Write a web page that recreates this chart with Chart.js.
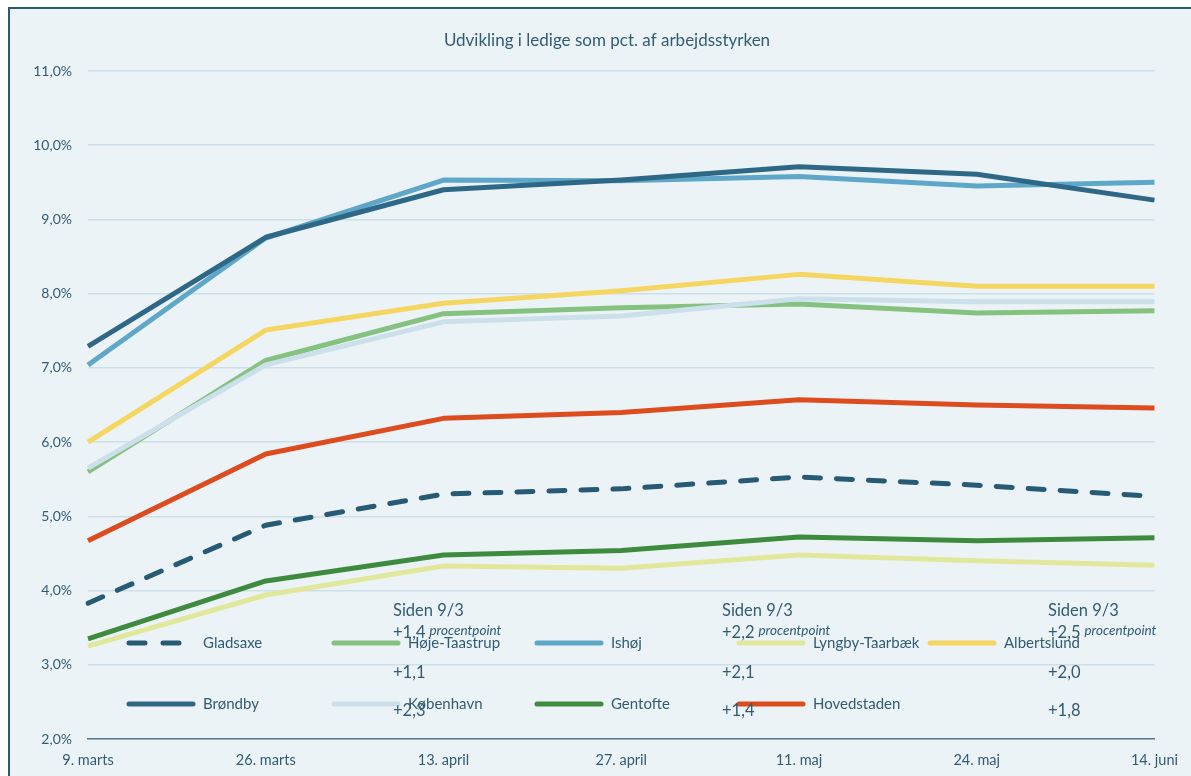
<!DOCTYPE html>
<html>
<head>
<meta charset="utf-8">
<script src="https://cdn.jsdelivr.net/npm/chart.js@4"></script>
<style>
  html, body { margin: 0; padding: 0; background: #fff; }
  #frame {
    position: absolute; left: 8px; top: 7px; width: 1181px; height: 767px;
    border-left: 2px solid #2b5b73; border-top: 2px solid #2b5b73;
    background: #ecf3f7;
  }
  canvas { display: block; }
</style>
</head>
<body>
<div id="frame"><canvas id="chart" width="1181" height="767"></canvas></div>
<script>
// categories
const dates = ['9. marts', '26. marts', '13. april', '27. april', '11. maj', '24. maj', '14. juni'];

// series (pct. af arbejdsstyrken)
const gladsaxe     = [3.83, 4.88, 5.30, 5.37, 5.53, 5.42, 5.27];
const hojeTaastrup = [5.60, 7.10, 7.73, 7.81, 7.86, 7.74, 7.77];
const ishoj        = [7.04, 8.75, 9.53, 9.52, 9.58, 9.45, 9.50];
const lyngby       = [3.25, 3.94, 4.33, 4.30, 4.48, 4.40, 4.34];
const albertslund  = [6.00, 7.51, 7.87, 8.04, 8.26, 8.10, 8.10];
const brondby      = [7.29, 8.76, 9.40, 9.53, 9.71, 9.61, 9.26];
const kobenhavn    = [5.65, 7.04, 7.62, 7.70, 7.93, 7.89, 7.89];
const gentofte     = [3.35, 4.13, 4.48, 4.54, 4.72, 4.67, 4.71];
const hovedstaden  = [4.67, 5.84, 6.32, 6.40, 6.57, 6.50, 6.46];

// change since 9/3, three columns of annotation
const changeLabels = [['+1,4', '+1,1', '+2,3'], ['+2,2', '+2,1', '+1,4'], ['+2,5', '+2,0', '+1,8']];

const yTicks = [2, 3, 4, 5, 6, 7, 8, 9, 10, 11];

const TEXT = '#315c72';
const FONT = 'Lato, "Open Sans", sans-serif';

const series = [
  { label: 'Gladsaxe', data: gladsaxe, color: '#275a74', dash: [16, 16] },
  { label: 'Høje-Taastrup', data: hojeTaastrup, color: '#86c27f' },
  { label: 'Ishøj', data: ishoj, color: '#5fa7c9' },
  { label: 'Lyngby-Taarbæk', data: lyngby, color: '#e2e89b' },
  { label: 'Albertslund', data: albertslund, color: '#f5d660' },
  { label: 'Brøndby', data: brondby, color: '#2f6886' },
  { label: 'København', data: kobenhavn, color: '#cce0eb' },
  { label: 'Gentofte', data: gentofte, color: '#3e8a3f' },
  { label: 'Hovedstaden', data: hovedstaden, color: '#dc4c1e' }
];

// legend slots (canvas px): two rows, five columns
const legendCols = [117, 322, 525, 727, 918];
const legendRows = [634, 695];

const overlay = {
  id: 'overlay',
  afterDatasetsDraw(chart) {
    const c = chart.ctx;
    c.save();
    // title
    c.fillStyle = TEXT;
    c.font = '17px ' + FONT;
    c.textAlign = 'center';
    c.textBaseline = 'middle';
    c.fillText('Udvikling i ledige som pct. af arbejdsstyrken', 597, 32);

    // legend
    series.forEach((s, i) => {
      const row = i < 5 ? 0 : 1;
      const col = i < 5 ? i : i - 5;
      const x = legendCols[col];
      const y = legendRows[row];
      c.strokeStyle = s.color;
      c.lineWidth = 5;
      c.lineCap = 'round';
      c.setLineDash(s.dash ? [16, 18] : []);
      c.beginPath();
      c.moveTo(x + 2, y);
      c.lineTo(x + 66, y);
      c.stroke();
      c.setLineDash([]);
      c.fillStyle = TEXT;
      c.font = '15px ' + FONT;
      c.textAlign = 'left';
      c.fillText(s.label, x + 76, y);
    });

    // annotations
    const annX = [383, 712, 1038];
    changeLabels.forEach((vals, k) => {
      const x = annX[k];
      c.fillStyle = TEXT;
      c.textAlign = 'left';
      c.font = '16.5px ' + FONT;
      c.fillText('Siden 9/3', x, 602);
      c.fillText(vals[0], x, 624);
      const w = c.measureText(vals[0]).width;
      c.font = 'italic 13.5px ' + FONT;
      c.fillText('procentpoint', x + w + 4, 622);
      c.font = '16.5px ' + FONT;
      c.fillText(vals[1], x, 664);
      c.fillText(vals[2], x, 702);
    });
    c.restore();
  }
};

const ctx = document.getElementById('chart').getContext('2d');
new Chart(ctx, {
  type: 'line',
  data: {
    labels: dates,
    datasets: series.map((s, i) => ({
      label: s.label,
      data: s.data,
      borderColor: s.color,
      backgroundColor: s.color,
      borderWidth: 5,
      borderDash: s.dash || [],
      borderCapStyle: s.dash ? 'round' : 'butt',
      borderJoinStyle: 'round',
      pointRadius: 0,
      tension: 0,
      fill: false,
      order: series.length - i
    }))
  },
  options: {
    responsive: false,
    animation: false,
    layout: { padding: { left: 0, right: 29, top: 62, bottom: 0 } },
    plugins: { legend: { display: false }, title: { display: false }, tooltip: { enabled: false } },
    scales: {
      x: {
        offset: false,
        grid: { display: false, drawTicks: false },
        border: { display: true, color: '#56798c', width: 1.5 },
        ticks: { color: TEXT, font: { family: FONT, size: 14.5 }, padding: 13, maxRotation: 0, autoSkip: false },
        afterFit: s => { s.height = 37; }
      },
      y: {
        min: yTicks[0],
        max: yTicks[yTicks.length - 1],
        afterBuildTicks: s => { s.ticks = yTicks.map(v => ({ value: v })); },
        grid: { color: '#cde0ea', lineWidth: 1.5, drawTicks: false },
        border: { display: false },
        ticks: {
          color: TEXT,
          font: { family: FONT, size: 14 },
          padding: 16,
          callback: v => v.toFixed(1).replace('.', ',') + '%'
        },
        afterFit: s => { s.width = 78; }
      }
    }
  },
  plugins: [overlay]
});
</script>
</body>
</html>
